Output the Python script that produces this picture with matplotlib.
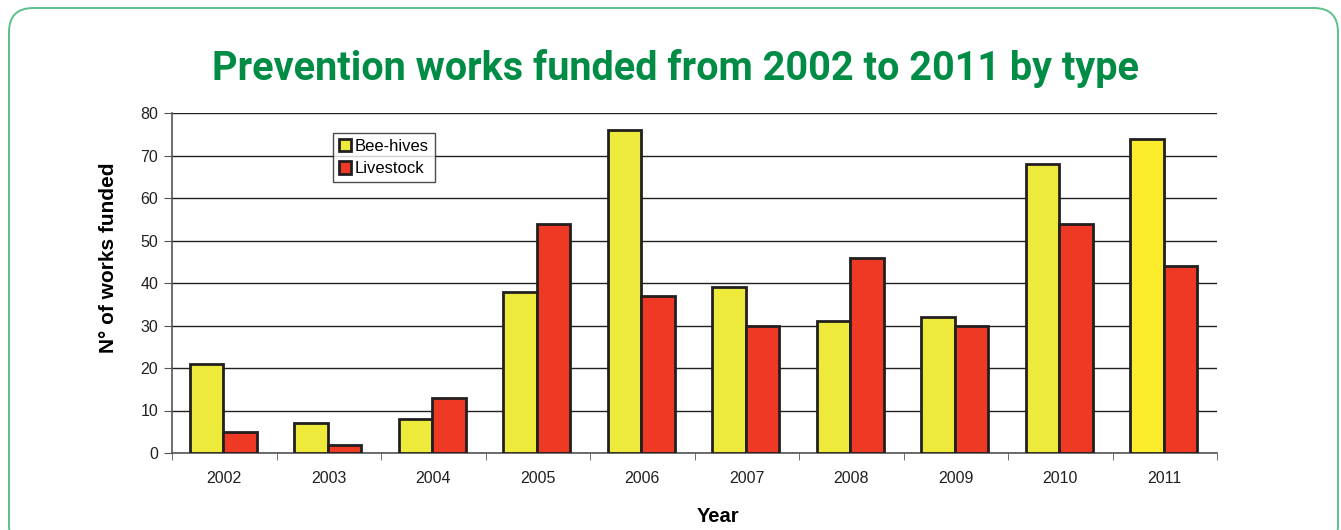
import matplotlib.pyplot as plt
import numpy as np
from matplotlib.patches import FancyBboxPatch

years = ["2002", "2003", "2004", "2005", "2006", "2007", "2008", "2009", "2010", "2011"]
bee_hives = [21, 7, 8, 38, 76, 39, 31, 32, 68, 74]
livestock = [5, 2, 13, 54, 37, 30, 46, 30, 54, 44]

plt.rcParams["font.family"] = ["Liberation Sans", "DejaVu Sans"]

W, H = 1341, 530
fig = plt.figure(figsize=(W / 100, H / 100), dpi=100)

# rounded green frame (bottom runs off the picture)
frame = FancyBboxPatch(
    (9 / W, -20 / H), (1338 - 9) / W, (H - 8 + 20) / H,
    boxstyle="round,pad=0,rounding_size=0.018",
    transform=fig.transFigure, facecolor="none", edgecolor="#5cc08a",
    linewidth=1.4, mutation_aspect=W / H, zorder=-1,
)
fig.patches.append(frame)

fig.text(675 / W, 1 - 69 / H, "Prevention works funded from 2002 to 2011 by type",
         ha="center", va="center", fontsize=28.5, fontweight="bold",
         color="#008c45", family=["Roboto", "DejaVu Sans"])

ax = fig.add_axes([172 / W, 1 - 453 / H, 1045 / W, 340 / H])
ax.set_facecolor("none")

x = np.arange(len(years))
w = 0.32
bee_colors = ["#eeea3c"] * (len(years) - 1) + ["#fbec2c"]  # last bar is brighter in the original
ax.bar(x - w / 2 - 0.01, bee_hives, w, color=bee_colors, edgecolor="#231f20", linewidth=2,
       label="Bee-hives", zorder=3)
ax.bar(x + w / 2 - 0.01, livestock, w, color="#ee3a24", edgecolor="#231f20", linewidth=2,
       label="Livestock", zorder=3)

ax.set_xlim(-0.5, len(years) - 0.5)
ax.set_ylim(0, 80)
ax.set_yticks(np.arange(0, 81, 10))
ax.yaxis.grid(True, color="#231f20", linewidth=1)
ax.set_axisbelow(True)

ax.set_xticks(x)
ax.set_xticklabels(years)
ax.set_xticks(np.arange(-0.5, len(years)), minor=True)
ax.tick_params(axis="x", which="major", length=0, pad=13, labelsize=11.5, labelcolor="#231f20")
ax.tick_params(axis="x", which="minor", length=5, direction="out", color="#555555")
ax.tick_params(axis="y", length=6, direction="out", color="#555555", labelsize=11.5,
               labelcolor="#231f20", pad=4)

for s in ["top", "right"]:
    ax.spines[s].set_visible(False)
for s in ["left", "bottom"]:
    ax.spines[s].set_color("#555555")
    ax.spines[s].set_linewidth(1.2)

ax.set_ylabel("N° of works funded", fontsize=15, fontweight="bold")
ax.yaxis.set_label_coords((108 - 172) / 1045, (453 - 258) / 340)
ax.set_xlabel("Year", fontsize=14.5, fontweight="bold")
ax.xaxis.set_label_coords((718 - 172) / 1045, (453 - 517) / 340)
ax.yaxis.label.set_va("center")
ax.xaxis.label.set_va("center")

leg = ax.legend(loc="upper left", bbox_to_anchor=((333 - 172) / 1045, (453 - 133) / 340),
                fontsize=12, frameon=True, fancybox=False, edgecolor="#231f20",
                handlelength=0.75, handleheight=0.75, handletextpad=0.2,
                borderpad=0.35, labelspacing=0.45, borderaxespad=0)
leg.get_frame().set_linewidth(1)
leg.legend_handles[0].set_facecolor("#eeea3c")

fig.savefig("out.png", dpi=100)
